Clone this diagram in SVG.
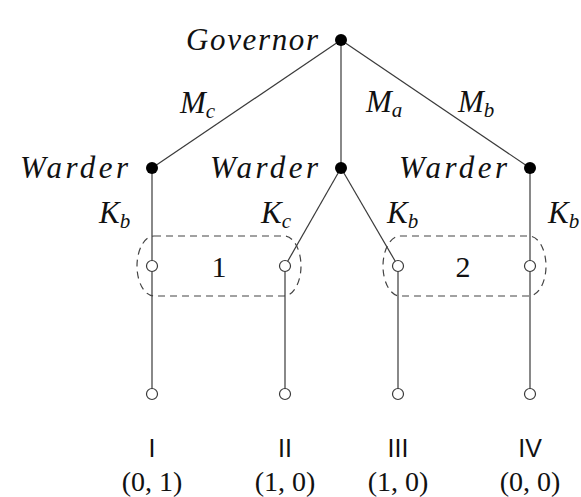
<svg xmlns="http://www.w3.org/2000/svg" width="581" height="497" viewBox="0 0 581 497">
  <style>
    .edge { stroke: #3a3a3a; stroke-width: 1.2; fill: none; }
    .info { stroke: #444; stroke-width: 1.2; fill: none; stroke-dasharray: 7 5; }
    .dec { fill: #000; }
    .chance { fill: #fff; stroke: #3a3a3a; stroke-width: 1.2; }
  </style>

  <!-- connectors with their move labels -->
  <g id="edges">
    <line class="edge" x1="341" y1="40" x2="152" y2="168"/>
    <line class="edge" x1="341" y1="40" x2="341" y2="168"/>
    <line class="edge" x1="341" y1="40" x2="530" y2="168"/>
    <line class="edge" x1="152" y1="168" x2="152" y2="394"/>
    <line class="edge" x1="341" y1="168" x2="285" y2="266"/>
    <line class="edge" x1="341" y1="168" x2="398" y2="266"/>
    <line class="edge" x1="285" y1="266" x2="285" y2="394"/>
    <line class="edge" x1="398" y1="266" x2="398" y2="394"/>
    <line class="edge" x1="530" y1="168" x2="530" y2="394"/>
    <g font-family="Liberation Serif" font-style="italic" font-size="31" fill="#111">
      <text x="180" y="113">M<tspan font-size="21" dy="5">c</tspan></text>
      <text x="366" y="112">M<tspan font-size="21" dy="5">a</tspan></text>
      <text x="458" y="112">M<tspan font-size="21" dy="5">b</tspan></text>
      <text x="99" y="223">K<tspan font-size="21" dy="5">b</tspan></text>
      <text x="261" y="223">K<tspan font-size="21" dy="5">c</tspan></text>
      <text x="387" y="223">K<tspan font-size="21" dy="5">b</tspan></text>
      <text x="548" y="223">K<tspan font-size="21" dy="5">b</tspan></text>
    </g>
  </g>

  <!-- information sets -->
  <g font-family="Liberation Serif" font-size="30" fill="#111" text-anchor="middle">
    <g id="infoset-1">
      <rect class="info" x="137" y="236" width="164" height="60" rx="17" ry="30"/>
      <text x="219" y="277">1</text>
    </g>
    <g id="infoset-2">
      <rect class="info" x="383" y="236" width="163" height="60" rx="17" ry="30"/>
      <text x="463" y="277">2</text>
    </g>
  </g>

  <!-- decision nodes -->
  <g font-family="Liberation Serif" font-style="italic" font-size="31" fill="#111" text-anchor="end">
    <g id="governor">
      <circle class="dec" cx="341" cy="40" r="6"/>
      <text x="318" y="50" textLength="132" lengthAdjust="spacing">Governor</text>
    </g>
    <g id="warder-left">
      <circle class="dec" cx="152" cy="168" r="6"/>
      <text x="128" y="178" textLength="108" lengthAdjust="spacing">Warder</text>
    </g>
    <g id="warder-mid">
      <circle class="dec" cx="341" cy="168" r="6"/>
      <text x="318" y="178" textLength="108" lengthAdjust="spacing">Warder</text>
    </g>
    <g id="warder-right">
      <circle class="dec" cx="530" cy="168" r="6"/>
      <text x="507" y="178" textLength="108" lengthAdjust="spacing">Warder</text>
    </g>
  </g>

  <g id="n1"><circle class="chance" cx="152" cy="266" r="5.5"/></g>
  <g id="n2"><circle class="chance" cx="285" cy="266" r="5.5"/></g>
  <g id="n3"><circle class="chance" cx="398" cy="266" r="5.5"/></g>
  <g id="n4"><circle class="chance" cx="530" cy="266" r="5.5"/></g>

  <!-- terminal nodes with outcome and payoffs -->
  <g fill="#111" text-anchor="middle">
    <g id="leaf-I">
      <circle class="chance" cx="152" cy="394" r="5.5"/>
      <text x="152" y="457" font-family="Liberation Sans" font-size="25">I</text>
      <text x="152" y="491" font-family="Liberation Serif" font-size="28">(0, 1)</text>
    </g>
    <g id="leaf-II">
      <circle class="chance" cx="285" cy="394" r="5.5"/>
      <text x="285" y="457" font-family="Liberation Sans" font-size="25">II</text>
      <text x="285" y="491" font-family="Liberation Serif" font-size="28">(1, 0)</text>
    </g>
    <g id="leaf-III">
      <circle class="chance" cx="398" cy="394" r="5.5"/>
      <text x="398" y="457" font-family="Liberation Sans" font-size="25">III</text>
      <text x="398" y="491" font-family="Liberation Serif" font-size="28">(1, 0)</text>
    </g>
    <g id="leaf-IV">
      <circle class="chance" cx="530" cy="394" r="5.5"/>
      <text x="530" y="457" font-family="Liberation Sans" font-size="25">IV</text>
      <text x="530" y="491" font-family="Liberation Serif" font-size="28">(0, 0)</text>
    </g>
  </g>
</svg>
